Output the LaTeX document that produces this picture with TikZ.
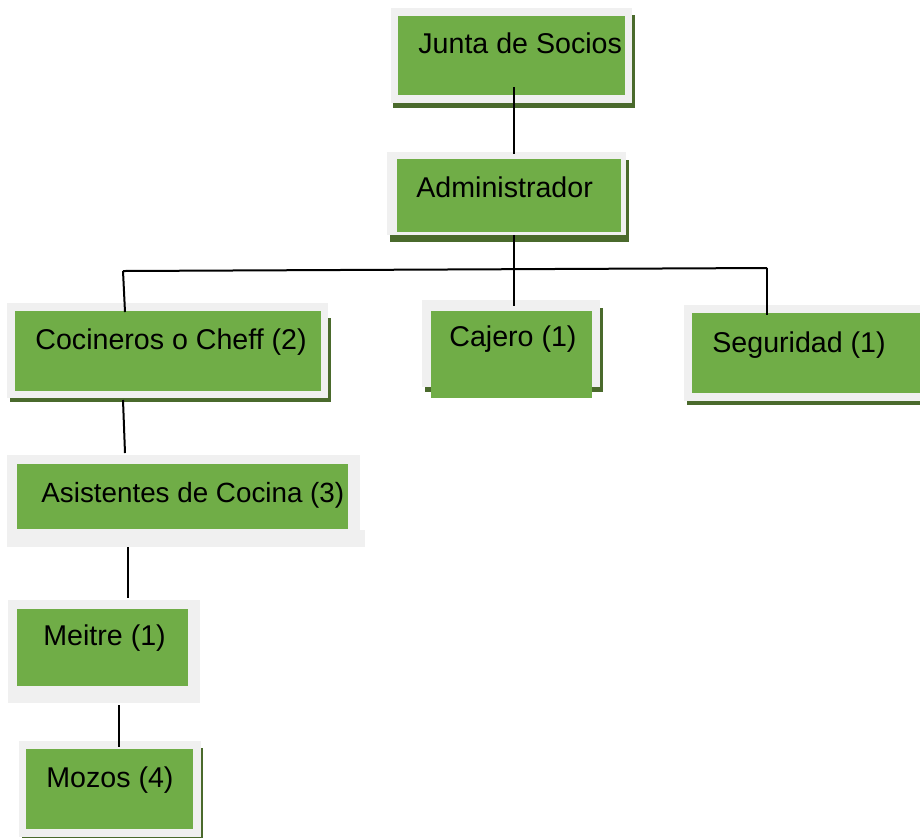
\documentclass[tikz,border=0pt]{standalone}
\usepackage{fontspec}
\setmainfont{Liberation Sans}
\definecolor{boxgreen}{HTML}{70AD47}
\definecolor{framegray}{HTML}{F0F0F0}
\definecolor{shadowgreen}{HTML}{4A6A2C}

\begin{document}
\begin{tikzpicture}[x=0.5pt, y=-0.5pt,
  frame/.style={fill=framegray},
  shade/.style={fill=shadowgreen},
  green/.style={fill=boxgreen},
  label/.style={anchor=base west, inner sep=0pt, font=\fontsize{14.3}{16}\selectfont},
  link/.style={line width=1pt, black}]
\useasboundingbox (0,0) rectangle (920,837);

% Junta de Socios
\fill[shade] (393,15) rectangle (635,108);
\fill[frame] (391,8) rectangle (632,103);
\fill[green] (398,16) rectangle (625,95);
\node[label] (junta) at (418,53) {Junta de Socios};

% Administrador
\fill[shade] (390,160) rectangle (629,242);
\fill[frame] (387,152) rectangle (626,235);
\fill[green] (397,159) rectangle (621,232);
\node[label] (admin) at (416,197) {Administrador};

% Cocineros o Cheff
\fill[shade] (10,318) rectangle (331,402);
\fill[frame] (7,303) rectangle (328,398);
\fill[green] (15,311) rectangle (321,391);
\node[label] (cocina) at (35,349) {Cocineros o Cheff (2)};

% Cajero
\fill[shade] (425,308) rectangle (603,392);
\fill[frame] (422,300) rectangle (600,387);
\fill[green] (431,311) rectangle (592,398);
\node[label] (cajero) at (449,346) {Cajero (1)};

% Seguridad
\fill[shade] (687,313) rectangle (920,405);
\fill[frame] (684,305) rectangle (920,401);
\fill[green] (692,313) rectangle (920,393);
\node[label] (seguridad) at (712,352) {Seguridad (1)};

% Asistentes de Cocina
\fill[frame] (7,455) rectangle (360,530);
\fill[frame] (7,530) rectangle (365,547);
\fill[green] (17,464) rectangle (348,529);
\node[label, font=\fontsize{13.9}{16}\selectfont] (asistentes) at (41,502) {Asistentes de Cocina (3)};

% Meitre
\fill[frame] (8,600) rectangle (200,703);
\fill[green] (17,609) rectangle (188,686);
\node[label] (meitre) at (43,645) {Meitre (1)};

% Mozos
\fill[shade] (22,748) rectangle (203,840);
\fill[frame] (19,741) rectangle (201,837);
\fill[green] (26,749) rectangle (193,829);
\node[label] (mozos) at (46,787) {Mozos (4)};

% Connector end points
\coordinate (junta-b) at (514,87);
\coordinate (admin-t) at (514,154);
\coordinate (admin-b) at (514,235);
\coordinate (bus-l) at (123,271);
\coordinate (bus-r) at (767,268);
\coordinate (cocina-t) at (125,312);
\coordinate (cajero-t) at (514,306);
\coordinate (seguridad-t) at (767,315);
\coordinate (cocina-b) at (123,400);
\coordinate (asistentes-t) at (125,453);
\coordinate (asistentes-b) at (128,547);
\coordinate (meitre-t) at (128,598);
\coordinate (meitre-b) at (119,705);
\coordinate (mozos-t) at (119,747);

% Lines
\draw[link] (junta-b) -- (admin-t);
\draw[link] (admin-b) -- (cajero-t);
\draw[link] (bus-l) -- (bus-r);
\draw[link] (bus-l) -- (cocina-t);
\draw[link] (bus-r) -- (seguridad-t);
\draw[link] (cocina-b) -- (asistentes-t);
\draw[link] (asistentes-b) -- (meitre-t);
\draw[link] (meitre-b) -- (mozos-t);

\end{tikzpicture}
\end{document}
